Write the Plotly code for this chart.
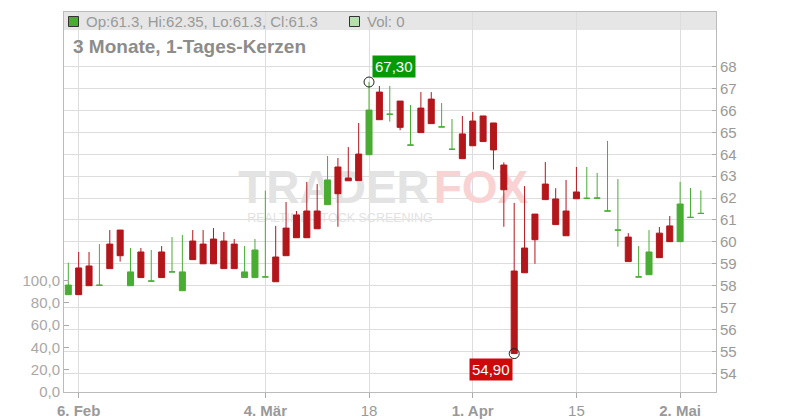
import plotly.graph_objects as go

# ---------------- data ----------------
dates = [
    "2019-02-05", "2019-02-06", "2019-02-07", "2019-02-08",
    "2019-02-11", "2019-02-12", "2019-02-13", "2019-02-14", "2019-02-15",
    "2019-02-18", "2019-02-19", "2019-02-20", "2019-02-21", "2019-02-22",
    "2019-02-25", "2019-02-26", "2019-02-27", "2019-02-28", "2019-03-01",
    "2019-03-04", "2019-03-05", "2019-03-06", "2019-03-07", "2019-03-08",
    "2019-03-11", "2019-03-12", "2019-03-13", "2019-03-14", "2019-03-15",
    "2019-03-18", "2019-03-19", "2019-03-20", "2019-03-21", "2019-03-22",
    "2019-03-25", "2019-03-26", "2019-03-27", "2019-03-28", "2019-03-29",
    "2019-04-01", "2019-04-02", "2019-04-03", "2019-04-04", "2019-04-05",
    "2019-04-08", "2019-04-09", "2019-04-10", "2019-04-11", "2019-04-12",
    "2019-04-15", "2019-04-16", "2019-04-17", "2019-04-18",
    "2019-04-23", "2019-04-24", "2019-04-25", "2019-04-26",
    "2019-04-29", "2019-04-30", "2019-05-02", "2019-05-03", "2019-05-06",
]
opens = [57.59, 58.81, 58.90, 58.02, 59.90, 60.54, 58.00, 59.54, 58.21, 59.54,
         58.63, 57.77, 60.04, 59.90, 60.13, 60.04, 59.90, 58.37, 58.37, 58.40,
         59.31, 60.63, 61.23, 61.41, 61.41, 61.70, 63.42, 62.92, 64.01, 63.98,
         66.84, 65.83, 66.43, 64.42, 66.11, 66.52, 65.25, 64.23, 64.93, 65.52,
         65.75, 65.43, 63.51, 58.67, 59.72, 61.27, 62.64, 61.96, 61.41, 62.28,
         61.99, 62.00, 61.41, 60.54, 60.22, 58.40, 58.50, 60.40, 60.73, 60.01,
         61.12, 61.3]
highs = [59.05, 59.54, 59.54, 59.90, 60.54, 60.54, 59.72, 59.72, 59.63, 59.81,
         60.22, 60.32, 60.54, 60.54, 60.63, 60.45, 60.13, 59.81, 60.13, 62.34,
         60.73, 61.82, 61.41, 62.74, 62.64, 63.92, 63.83, 64.33, 65.43, 67.30,
         67.12, 67.12, 66.43, 66.25, 66.84, 66.84, 66.34, 65.61, 65.75, 65.93,
         65.75, 65.43, 63.63, 61.78, 62.55, 61.27, 63.65, 62.45, 62.83, 63.42,
         63.42, 63.15, 64.61, 62.87, 60.40, 59.81, 60.54, 60.68, 61.18, 62.74,
         62.46, 62.35]
lows = [57.59, 57.59, 58.00, 58.02, 58.78, 59.10, 58.00, 58.37, 58.21, 58.37,
        58.63, 57.77, 59.19, 59.00, 59.00, 58.78, 58.78, 58.37, 58.37, 58.40,
        58.18, 59.37, 60.19, 60.19, 60.60, 61.70, 60.69, 62.79, 62.80, 63.98,
        65.58, 65.49, 65.10, 64.42, 64.99, 65.40, 65.25, 64.23, 63.80, 64.39,
        64.58, 63.30, 60.69, 54.90, 58.59, 59.00, 61.93, 60.79, 60.28, 61.97,
        61.99, 62.00, 61.41, 59.78, 59.10, 58.40, 58.50, 59.28, 60.01, 60.01,
        61.12, 61.3]
closes = [58.03, 57.59, 58.00, 58.02, 58.78, 59.37, 58.63, 58.37, 58.21, 58.37,
          58.63, 58.63, 59.19, 59.00, 59.00, 58.78, 58.78, 58.63, 59.63, 58.40,
          58.18, 59.37, 60.19, 60.19, 60.60, 62.83, 62.20, 62.79, 62.80, 66.02,
          65.58, 65.83, 65.23, 64.42, 64.99, 65.40, 65.25, 64.23, 63.80, 64.39,
          64.58, 64.20, 62.38, 54.90, 58.59, 60.10, 61.93, 60.79, 60.28, 61.97,
          61.99, 62.00, 61.41, 60.54, 59.10, 58.40, 59.54, 59.28, 60.01, 61.73,
          61.12, 61.3]
last_volume = 0

tick_dates = ["2019-02-06", "2019-03-04", "2019-03-18", "2019-04-01", "2019-04-15", "2019-05-02"]
tick_labels = ["6. Feb", "4. Mär", "18", "1. Apr", "15", "2. Mai"]
tick_bold = [True, True, False, True, False, True]
price_ticks = [54, 55, 56, 57, 58, 59, 60, 61, 62, 63, 64, 65, 66, 67, 68]
volume_ticks = [0, 20, 40, 60, 80, 100]

title_text = "3 Monate, 1-Tages-Kerzen"

# ---------------- style ----------------
GREEN = "#49ad33"
RED = "#b3161b"
FONT = "Liberation Sans, Arial, sans-serif"
GRID = "#dddddd"
AXIS = "#bbbbbb"
LABEL = "#999999"

W, H = 800, 420
PL, PR, PT, PB = 64, 716, 12, 392
x_range = [-0.415, 62.46]
price_range = [53.146, 70.497]
vol_range = [0, 341]


def px(x):
    return (x - PL) / (PR - PL)


def py(y):
    return (PB - y) / (PB - PT)


def data_x(x):
    return x_range[0] + px(x) * (x_range[1] - x_range[0])


def data_v(y):
    return vol_range[0] + py(y) * (vol_range[1] - vol_range[0])


idx = list(range(len(dates)))
up = [i for i in idx if closes[i] >= opens[i]]
down = [i for i in idx if closes[i] < opens[i]]

fig = go.Figure()

# watermark (behind candles, on the main subplot)
fig.add_trace(go.Scatter(
    x=[data_x(334), data_x(481)], y=[data_v(191), data_v(191)],
    mode="text", text=["TRADER", "FOX"],
    textfont=dict(family=FONT, size=46, weight="bold", color=["#e3e3e3", "#f9d3d3"]),
    hoverinfo="skip", showlegend=False, xaxis="x", yaxis="y"))
fig.add_trace(go.Scatter(
    x=[data_x(340)], y=[data_v(219)],
    mode="text", text=["REALTIME STOCK SCREENING"],
    textfont=dict(family=FONT, size=12.5, color="#e2e2e2"),
    hoverinfo="skip", showlegend=False, xaxis="x", yaxis="y"))


def candle(sel, color):
    return go.Candlestick(
        x=[idx[i] for i in sel],
        open=[opens[i] for i in sel], high=[highs[i] for i in sel],
        low=[lows[i] for i in sel], close=[closes[i] for i in sel],
        increasing=dict(line=dict(color=color, width=1), fillcolor=color),
        decreasing=dict(line=dict(color=color, width=1), fillcolor=color),
        whiskerwidth=0, showlegend=False, hoverinfo="skip",
        xaxis="x", yaxis="y2")


fig.add_trace(candle(up, GREEN))
fig.add_trace(candle(down, RED))

hi_i = max(idx, key=lambda i: highs[i])
lo_i = min(idx, key=lambda i: lows[i])
fig.add_trace(go.Scatter(
    x=[hi_i, lo_i], y=[highs[hi_i], lows[lo_i]], mode="markers",
    marker=dict(symbol="circle-open", size=10, color="#222222", line=dict(width=1)),
    hoverinfo="skip", showlegend=False, xaxis="x", yaxis="y2"))


def de(v):
    return f"{v:.2f}".replace(".", ",")


annotations = [
    dict(x=hi_i, y=highs[hi_i], xref="x", yref="y2", text=de(highs[hi_i]),
         showarrow=False, xanchor="left", yanchor="bottom", xshift=3, yshift=4,
         bgcolor="#069a06", borderpad=2, font=dict(family=FONT, size=15, color="white")),
    dict(x=lo_i, y=lows[lo_i], xref="x", yref="y2", text=de(lows[lo_i]),
         showarrow=False, xanchor="right", yanchor="top", xshift=-1, yshift=-4,
         bgcolor="#cc0a0a", borderpad=2, font=dict(family=FONT, size=15, color="white")),
    dict(x=px(84), y=py(21.5), xref="paper", yref="paper",
         text=f"Op:{opens[-1]:g}, Hi:{highs[-1]:g}, Lo:{lows[-1]:g}, Cl:{closes[-1]:g}",
         showarrow=False, xanchor="left", yanchor="middle",
         font=dict(family=FONT, size=15, color=LABEL)),
    dict(x=px(365), y=py(21.5), xref="paper", yref="paper",
         text=f"Vol: {last_volume}", showarrow=False, xanchor="left", yanchor="middle",
         font=dict(family=FONT, size=15, color=LABEL)),
    dict(x=px(71), y=py(47), xref="paper", yref="paper",
         text=f"<b>{title_text}</b>", showarrow=False, xanchor="left", yanchor="middle",
         font=dict(family=FONT, size=19, color="#8c8c8c")),
]

shapes = [
    dict(type="rect", xref="paper", yref="paper", x0=0, x1=1, y0=py(30), y1=1,
         fillcolor="#e6e6e6", line=dict(width=0), layer="below"),
    dict(type="rect", xref="paper", yref="paper", x0=px(68.5), x1=px(78.5),
         y0=py(26.5), y1=py(16.5), fillcolor=GREEN, line=dict(color="#333333", width=1)),
    dict(type="rect", xref="paper", yref="paper", x0=px(349.5), x1=px(359.5),
         y0=py(26.5), y1=py(16.5), fillcolor="#b6e0ac", line=dict(color="#333333", width=1)),
]

tick_vals = [dates.index(d) for d in tick_dates]
tick_text = [f"<b>{t}</b>" if b else t for t, b in zip(tick_labels, tick_bold)]

fig.update_layout(
    width=W, height=H,
    margin=dict(l=PL, r=W - PR, t=PT, b=H - PB, pad=0, autoexpand=False),
    paper_bgcolor="white", plot_bgcolor="white",
    font=dict(family=FONT, size=15, color=LABEL),
    showlegend=False, boxgap=0.42, boxgroupgap=0,
    annotations=annotations, shapes=shapes,
    xaxis=dict(range=x_range, tickmode="array", tickvals=tick_vals, ticktext=tick_text,
               showgrid=True, gridcolor=GRID, gridwidth=1, zeroline=False,
               showline=True, linecolor=AXIS, linewidth=1, mirror=True,
               ticks="outside", ticklen=5, tickcolor="#aaaaaa",
               tickfont=dict(family=FONT, size=15, color=LABEL),
               rangeslider=dict(visible=False), fixedrange=True),
    yaxis=dict(range=vol_range, tickmode="array", tickvals=volume_ticks,
               ticktext=[f"{v:.1f}".replace(".", ",") for v in volume_ticks],
               showgrid=False, zeroline=False, showline=True, linecolor=AXIS,
               ticks="inside", ticklen=5, tickcolor="#aaaaaa",
               tickfont=dict(family=FONT, size=15, color="#a8a8a8"), fixedrange=True),
    yaxis2=dict(range=price_range, overlaying="y", side="right", tickmode="array",
                tickvals=price_ticks, showgrid=True, gridcolor=GRID, gridwidth=1,
                zeroline=False, showline=True, linecolor=AXIS,
                ticks="inside", ticklen=4, tickcolor="#aaaaaa",
                tickfont=dict(family=FONT, size=15, color=LABEL), fixedrange=True),
)

fig.write_html("out.html", config={"displayModeBar": False},
               post_script="document.body.style.margin='0px';document.body.style.overflow='hidden';")
